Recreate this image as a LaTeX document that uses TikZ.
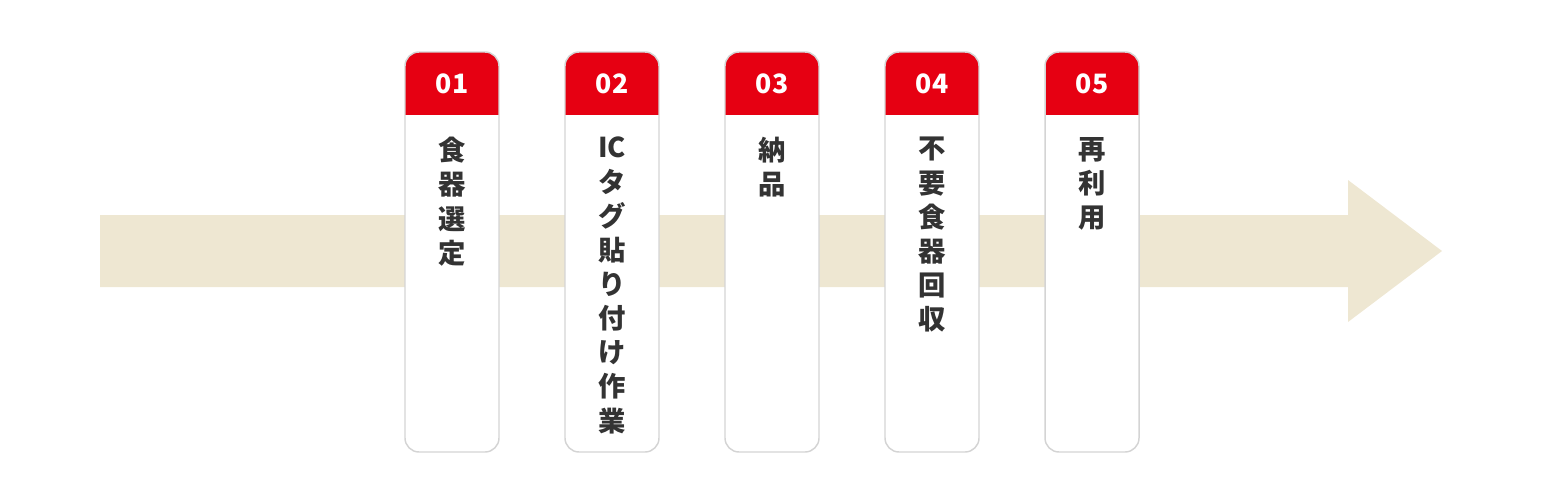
\documentclass[tikz,border=0pt]{standalone}
\usepackage{fontspec}
\newfontfamily\jpfont{Noto Sans CJK JP}
\definecolor{arrowbeige}{HTML}{EEE7D2}
\definecolor{cardred}{HTML}{E60012}
\definecolor{cardborder}{HTML}{D4D4D4}
\definecolor{txtdark}{HTML}{333333}
\tikzset{
  numlabel/.style={text=white, font=\jpfont\bfseries\fontsize{20}{22}\selectfont, inner sep=0pt, anchor=center},
  steptext/.style={text=txtdark, font=\jpfont\bfseries\fontsize{20.5}{25.6}\selectfont, align=center, inner sep=0pt, anchor=north},
  cardedge/.style={draw=cardborder, line width=1.1pt, rounded corners=10.5pt},
}
\newcommand{\stepcard}[4]{% #1 left x, #2 name, #3 number, #4 text
  \fill[white, rounded corners=10.5pt] (#1,52) rectangle (#1+94,452);
  \begin{scope}
    \clip[rounded corners=10.5pt] (#1,52) rectangle (#1+94,452);
    \fill[cardred] (#1,52) rectangle (#1+94,115);
  \end{scope}
  \draw[cardedge] (#1,52) rectangle (#1+94,452);
  \node[numlabel] (#2num) at (#1+47,84) {#3};
  \node[steptext] (#2txt) at (#1+47,137) {#4};
}
\begin{document}
\begin{tikzpicture}[x=0.75pt,y=-0.75pt]
\useasboundingbox (0,0) rectangle (1544,501);
\fill[arrowbeige] (100,215) -- (1348,215) -- (1348,180) -- (1442,251) -- (1348,322) -- (1348,287) -- (100,287) -- cycle;
\stepcard{405}{s1}{01}{食\\器\\選\\定}
\stepcard{565}{s2}{02}{IC\\タ\\グ\\貼\\り\\付\\け\\作\\業}
\stepcard{725}{s3}{03}{納\\品}
\stepcard{885}{s4}{04}{不\\要\\食\\器\\回\\収}
\stepcard{1045}{s5}{05}{再\\利\\用}
\end{tikzpicture}
\end{document}
